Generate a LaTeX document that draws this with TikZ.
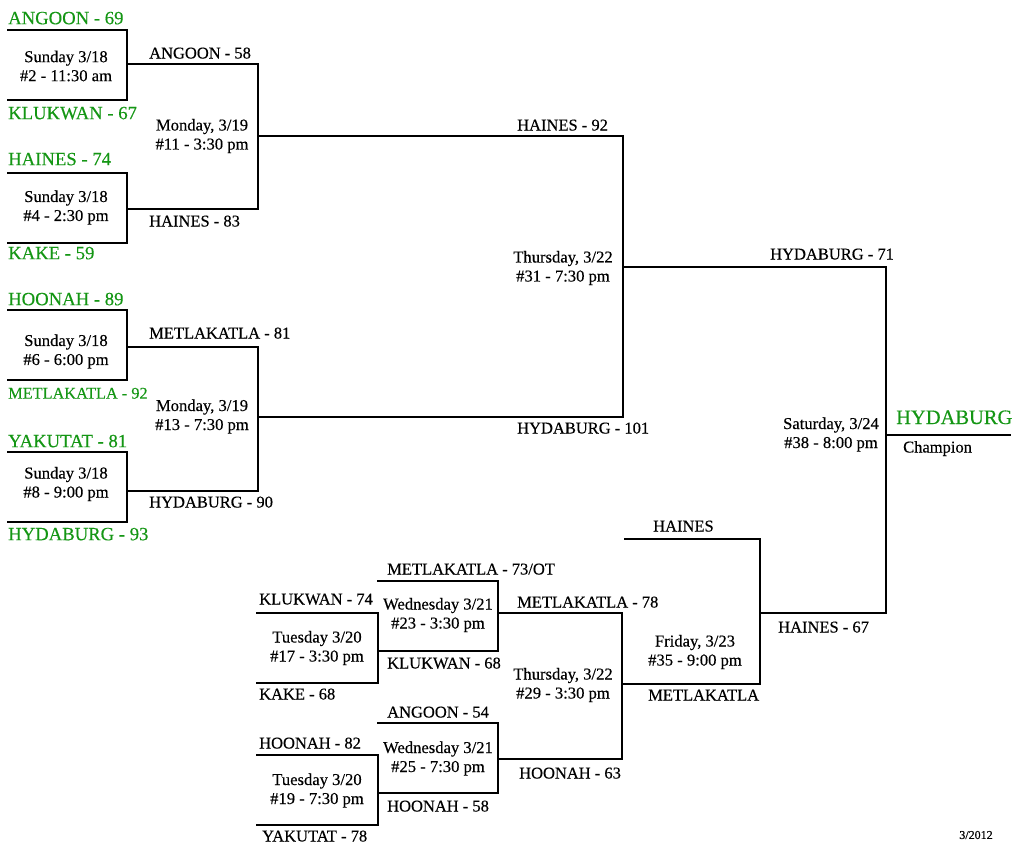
\documentclass[tikz,border=0pt]{standalone}
\usepackage{fontspec}
\setmainfont{Liberation Serif}[FakeBold=0.35]
\definecolor{wingreen}{RGB}{20,150,20}
\begin{document}
\begin{tikzpicture}[x=1pt,y=-1pt,
  br/.style={line width=1.1pt, line cap=rect},
  lbl/.style={anchor=base west, inner sep=0pt, yshift=-5.5pt, font=\fontsize{16.5}{19}\selectfont},
  win/.style={anchor=base west, inner sep=0pt, yshift=-6.2pt, text=wingreen, font=\fontsize{18.7}{22}\selectfont},
  sched/.style={align=center, inner sep=0pt, yshift=-1.5pt, font=\fontsize{16.6}{19}\selectfont}]
\useasboundingbox (0,0) rectangle (1020,860);
% ---------- coordinates ----------
\coordinate (g2a) at (8,30);  \coordinate (g2b) at (8,100);  \coordinate (g2o) at (127,64);
\coordinate (g4a) at (8,173); \coordinate (g4b) at (8,243);  \coordinate (g4o) at (127,209);
\coordinate (g6a) at (8,310); \coordinate (g6b) at (8,380);  \coordinate (g6o) at (127,347);
\coordinate (g8a) at (8,452); \coordinate (g8b) at (8,522);  \coordinate (g8o) at (127,491);
\coordinate (g11o) at (258,136);
\coordinate (g13o) at (258,417);
\coordinate (g31o) at (623,267);
\coordinate (g38o) at (886,435);
\coordinate (champ) at (1010,435);
\coordinate (g17a) at (257,613); \coordinate (g17b) at (257,683); \coordinate (g17o) at (378,651);
\coordinate (g19a) at (257,755); \coordinate (g19b) at (257,825); \coordinate (g19o) at (378,793);
\coordinate (g23a) at (378,581); \coordinate (g23o) at (498,613);
\coordinate (g25a) at (378,723); \coordinate (g25o) at (498,759);
\coordinate (g29o) at (622,684);
\coordinate (g35a) at (625,539); \coordinate (g35o) at (760,613);
% ---------- brackets ----------
\draw[br] (g2a) -- (g2a -| g2o) -- (g2b -| g2o) -- (g2b);
\draw[br] (g4a) -- (g4a -| g4o) -- (g4b -| g4o) -- (g4b);
\draw[br] (g6a) -- (g6a -| g6o) -- (g6b -| g6o) -- (g6b);
\draw[br] (g8a) -- (g8a -| g8o) -- (g8b -| g8o) -- (g8b);
\draw[br] (g2o) -- (g2o -| g11o) -- (g4o -| g11o) -- (g4o);
\draw[br] (g6o) -- (g6o -| g13o) -- (g8o -| g13o) -- (g8o);
\draw[br] (g11o) -- (g11o -| g31o) -- (g13o -| g31o) -- (g13o);
\draw[br] (g31o) -- (g31o -| g38o) -- (g35o -| g38o) -- (g35o);
\draw[br] (g38o) -- (champ);
\draw[br] (g17a) -- (g17a -| g17o) -- (g17b -| g17o) -- (g17b);
\draw[br] (g19a) -- (g19a -| g19o) -- (g19b -| g19o) -- (g19b);
\draw[br] (g23a) -- (g23a -| g23o) -- (g17o -| g23o) -- (g17o);
\draw[br] (g25a) -- (g25a -| g25o) -- (g19o -| g25o) -- (g19o);
\draw[br] (g23o) -- (g23o -| g29o) -- (g25o -| g29o) -- (g25o);
\draw[br] (g29o) -- (g29o -| g35o) -- (g35a -| g35o) -- (g35a);
% ---------- first round (green) ----------
\node[win] (t1) at (8,18)  {ANGOON - 69};
\node[win] (t2) at (8,113) {KLUKWAN - 67};
\node[win] (t3) at (8,159) {HAINES - 74};
\node[win] (t4) at (8,253) {KAKE - 59};
\node[win] (t5) at (8,299) {HOONAH - 89};
\node[win, yshift=0.6pt, font=\fontsize{16.3}{19}\selectfont] (t6) at (8,393) {METLAKATLA - 92};
\node[win] (t7) at (8,441) {YAKUTAT - 81};
\node[win] (t8) at (8,534) {HYDABURG - 93};
% ---------- schedules ----------
\node[sched] (s2)  at (66,64.5)  {Sunday 3/18\\\#2 - 11:30 am};
\node[sched] (s4)  at (66,206)   {Sunday 3/18\\\#4 - 2:30 pm};
\node[sched] (s6)  at (66,350)   {Sunday 3/18\\\#6 - 6:00 pm};
\node[sched] (s8)  at (66,482.5) {Sunday 3/18\\\#8 - 9:00 pm};
\node[sched] (s11) at (202,134.5){Monday, 3/19\\\#11 - 3:30 pm};
\node[sched] (s13) at (202,415)  {Monday, 3/19\\\#13 - 7:30 pm};
\node[sched] (s31) at (563,266.5){Thursday, 3/22\\\#31 - 7:30 pm};
\node[sched] (s38) at (831,433)  {Saturday, 3/24\\\#38 - 8:00 pm};
\node[sched] (s23) at (438,613.5){Wednesday 3/21\\\#23 - 3:30 pm};
\node[sched] (s17) at (317,646.5){Tuesday 3/20\\\#17 - 3:30 pm};
\node[sched] (s29) at (563,683.5){Thursday, 3/22\\\#29 - 3:30 pm};
\node[sched] (s25) at (438,757)  {Wednesday 3/21\\\#25 - 7:30 pm};
\node[sched] (s19) at (317,789)  {Tuesday 3/20\\\#19 - 7:30 pm};
\node[sched] (s35) at (695,650.5){Friday, 3/23\\\#35 - 9:00 pm};
% ---------- results ----------
\node[lbl] (r1)  at (149,53)  {ANGOON - 58};
\node[lbl] (r2)  at (149,221) {HAINES - 83};
\node[lbl] (r3)  at (149,333) {METLAKATLA - 81};
\node[lbl] (r4)  at (149,502) {HYDABURG - 90};
\node[lbl] (r5)  at (517,125) {HAINES - 92};
\node[lbl] (r6)  at (517,428) {HYDABURG - 101};
\node[lbl] (r7)  at (770,254) {HYDABURG - 71};
\node[lbl] (r8)  at (653,526) {HAINES};
\node[lbl] (r9)  at (778,627) {HAINES - 67};
\node[lbl] (r10) at (648,695) {METLAKATLA};
\node[lbl] (r11) at (387,569) {METLAKATLA - 73/OT};
\node[lbl] (r12) at (259,599) {KLUKWAN - 74};
\node[lbl] (r13) at (387,663) {KLUKWAN - 68};
\node[lbl] (r14) at (517,602) {METLAKATLA - 78};
\node[lbl] (r15) at (259,694) {KAKE - 68};
\node[lbl] (r16) at (387,712) {ANGOON - 54};
\node[lbl] (r17) at (259,743) {HOONAH - 82};
\node[lbl] (r18) at (519,773) {HOONAH - 63};
\node[lbl] (r19) at (387,806) {HOONAH - 58};
\node[lbl] (r20) at (262,836) {YAKUTAT - 78};
% ---------- champion ----------
\node[anchor=base west, inner sep=0pt, yshift=-7pt, text=wingreen, font=\fontsize{20.5}{24}\selectfont] (ch) at (896,417) {HYDABURG};
\node[lbl] (chl) at (903,447) {Champion};
\node[anchor=center, inner sep=0pt, font=\fontsize{12}{14}\selectfont] (yr) at (976,835) {3/2012};
\end{tikzpicture}
\end{document}
